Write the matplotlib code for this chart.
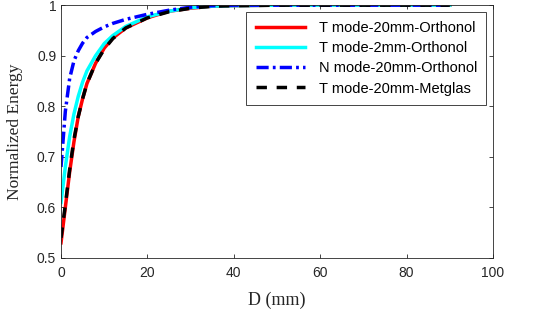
import matplotlib.pyplot as plt

# Данные
d = [0, 1, 2, 3, 4, 5, 6, 8, 10, 12, 15, 20, 25, 30, 35, 40, 50, 60, 70, 80, 90]
t20_orth = [0.53, 0.60, 0.67, 0.73, 0.78, 0.815, 0.845, 0.885, 0.915, 0.935, 0.955,
            0.975, 0.988, 0.994, 0.998, 0.999, 1.0, 1.0, 1.0, 1.0, 1.0]
t2_orth = [0.61, 0.68, 0.74, 0.785, 0.82, 0.848, 0.87, 0.90, 0.924, 0.94, 0.958,
           0.977, 0.988, 0.995, 0.998, 0.999, 1.0, 1.0, 1.0, 1.0, 1.0]
n20_orth = [0.68, 0.79, 0.855, 0.89, 0.91, 0.925, 0.936, 0.948, 0.957, 0.964, 0.972,
            0.982, 0.99, 0.996, 0.999, 1.0, 1.0, 1.0, 1.0, 1.0, 1.0]
t20_metg = [0.54, 0.605, 0.675, 0.735, 0.78, 0.815, 0.845, 0.885, 0.913, 0.934, 0.955,
            0.975, 0.987, 0.994, 0.998, 0.999, 1.0, 1.0, 1.0, 1.0, 1.0]

labels = ['T mode-20mm-Orthonol', 'T mode-2mm-Orthonol',
          'N mode-20mm-Orthonol', 'T mode-20mm-Metglas']

gray = '#262626'
fig = plt.figure(figsize=(5.38, 3.18), dpi=100)
ax = fig.add_axes([0.1134, 0.1887, 0.803, 0.795])

ax.plot(d, t20_orth, color='red', lw=2.5, label=labels[0])
ax.plot(d, t2_orth, color='cyan', lw=2.5, label=labels[1])
ax.plot(d, n20_orth, color='#0000ff', lw=2.5, ls=(0, (3.5, 1.2, 0.8, 1.2)), label=labels[2])
ax.plot(d, t20_metg, color='black', lw=2.5, ls=(0, (3, 2.8)), label=labels[3])

ax.set_xlim(0, 100)
ax.set_ylim(0.5, 1.0)
ax.set_xticks([0, 20, 40, 60, 80, 100])
ax.set_yticks([0.5, 0.6, 0.7, 0.8, 0.9, 1.0])
ax.set_yticklabels(['0.5', '0.6', '0.7', '0.8', '0.9', '1'])

ax.tick_params(direction='in', top=True, right=True, length=3, width=0.6,
               labelsize=10, colors=gray, labelcolor=gray)
ax.tick_params(axis='x', pad=6)
for tl in ax.get_xticklabels() + ax.get_yticklabels():
    tl.set_family('Liberation Sans')
for s in ax.spines.values():
    s.set_linewidth(0.6)
    s.set_color(gray)

ax.set_xlabel('D (mm)', family='Liberation Serif', fontsize=13, color=gray, labelpad=8)
ax.set_ylabel('Normalized Energy', family='Liberation Serif', fontsize=12.5, color=gray, labelpad=10)

leg = ax.legend(loc='upper right', prop={'family': 'Liberation Sans', 'size': 10.5},
                fancybox=False, framealpha=1, edgecolor=gray, borderaxespad=0.45,
                handlelength=3.4, handletextpad=0.9, labelspacing=0.42, borderpad=0.65)
leg.get_frame().set_linewidth(0.6)

fig.savefig('out.png', dpi=100)
